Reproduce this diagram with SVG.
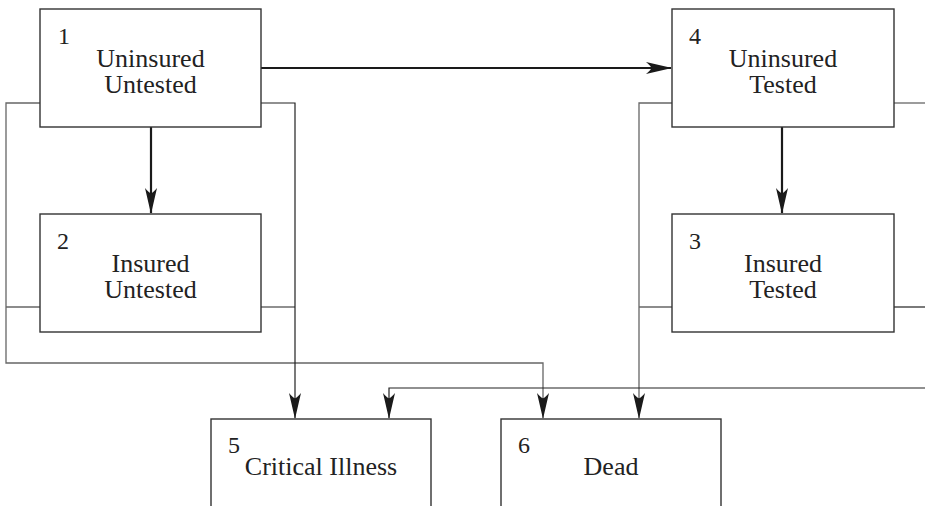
<svg xmlns="http://www.w3.org/2000/svg" width="925" height="506" viewBox="0 0 925 506">
<style>
.box{fill:#fff;stroke:#333;stroke-width:1.4}
.t{font-family:'Liberation Serif','DejaVu Serif',serif;font-size:26px;fill:#222;text-anchor:middle}
.n{font-family:'Liberation Serif','DejaVu Serif',serif;font-size:24px;fill:#222}
.bold{fill:none;stroke:#1a1a1a;stroke-width:2.2}
.thin{fill:none;stroke:#666;stroke-width:1.3}
.dark{fill:none;stroke:#222;stroke-width:1.2}
</style>
<defs>
<marker id="ah" markerUnits="userSpaceOnUse" markerWidth="26" markerHeight="14" viewBox="0 0 26 14" refX="25" refY="7" orient="auto">
<path d="M26,7 L0,1 Q6,6 5,7 Q6,8 0,13 Z" fill="#1a1a1a"/>
</marker>
</defs>
<g id="connectors">
<path class="bold" d="M261,68 H671" marker-end="url(#ah)"/>
<path class="bold" d="M151,127 V213" marker-end="url(#ah)"/>
<path class="bold" d="M782,127 V213" marker-end="url(#ah)"/>
<path class="thin" d="M40,103 H6 V363 H543 V418" marker-end="url(#ah)"/>
<path class="thin" d="M40,307 H6"/>
<path class="dark" d="M261,103 H295 V418" marker-end="url(#ah)"/>
<path class="dark" d="M261,307 H295"/>
<path class="thin" d="M672,103 H639 V418" marker-end="url(#ah)"/>
<path class="thin" d="M672,307 H639"/>
<path class="thin" d="M894,103 H925"/>
<path class="dark" d="M894,307 H925"/>
<path class="dark" d="M925,388 H389 V418" marker-end="url(#ah)"/>
</g>
<g id="node1">
<rect class="box" x="40" y="9" width="221" height="118"/>
<text class="n" x="58" y="44">1</text>
<text class="t" x="150.5" y="67">Uninsured</text>
<text class="t" x="150.5" y="93">Untested</text>
</g>
<g id="node2">
<rect class="box" x="40" y="214" width="221" height="118"/>
<text class="n" x="57" y="249">2</text>
<text class="t" x="150.5" y="272">Insured</text>
<text class="t" x="150.5" y="298">Untested</text>
</g>
<g id="node4">
<rect class="box" x="672" y="9" width="222" height="118"/>
<text class="n" x="689" y="44">4</text>
<text class="t" x="783" y="67">Uninsured</text>
<text class="t" x="783" y="93">Tested</text>
</g>
<g id="node3">
<rect class="box" x="672" y="214" width="222" height="118"/>
<text class="n" x="689" y="249">3</text>
<text class="t" x="783" y="272">Insured</text>
<text class="t" x="783" y="298">Tested</text>
</g>
<g id="node5">
<rect class="box" x="211" y="419" width="220" height="120"/>
<text class="n" x="228" y="453">5</text>
<text class="t" x="321" y="475">Critical Illness</text>
</g>
<g id="node6">
<rect class="box" x="501" y="419" width="220" height="120"/>
<text class="n" x="518" y="453">6</text>
<text class="t" x="611" y="475">Dead</text>
</g>
</svg>
